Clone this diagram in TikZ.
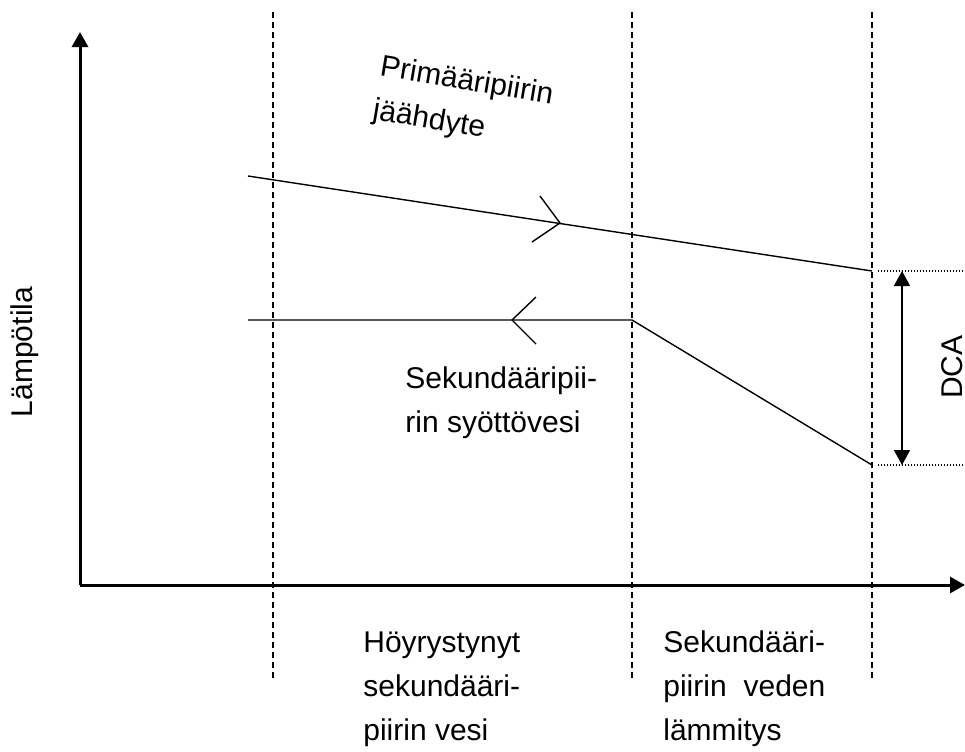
\documentclass[tikz,border=0pt]{standalone}
\usepackage{fontspec}
\setmainfont{Liberation Sans}
\usetikzlibrary{arrows.meta, positioning}

\tikzset{
  axisline/.style={line width=1.5pt, -{Triangle[length=7.5pt,width=8pt]}},
  zoneline/.style={line width=0.6pt, dash pattern=on 3pt off 2pt},
  flowline/.style={line width=0.7pt},
  levelline/.style={line width=0.6pt, dash pattern=on 0.6pt off 0.9pt},
  dcaarrow/.style={line width=0.7pt, {Triangle[length=7.5pt,width=8pt]}-{Triangle[length=7.5pt,width=8pt]}},
  txt/.style={inner sep=0pt, font=\fontsize{15}{22}\selectfont, align=left}
}

\begin{document}
\begin{tikzpicture}[x=0.5pt, y=-0.5pt]
    \useasboundingbox (0,0) rectangle (965,751);

    % --- AXES ---
    \coordinate (origin) at (80,585);
    \coordinate (ytip) at (80,32);
    \coordinate (xtip) at (965,585);
    \draw[axisline] (origin) -- (ytip);
    \draw[axisline] (origin) -- (xtip);
    \node (ylabel) [txt, rotate=90] at (25,352) {Lämpötila};

    % --- ZONE BORDERS ---
    \foreach \x/\name in {273/za, 632/zb, 872/zc} {
        \coordinate (\name top) at (\x,12);
        \coordinate (\name bot) at (\x,678);
        \draw[zoneline] (\name top) -- (\name bot);
    }

    % --- PRIMARY COOLANT ---
    \coordinate (pin) at (248,176);
    \coordinate (pout) at (872,271);
    \draw[flowline] (pin) -- (pout);
    \coordinate (ptip) at (560,223);
    \draw[flowline] (540,196) -- (ptip) -- (532,242);
    \node (primary) [txt, rotate=-9.5] at (463,104) {Primääripiirin\\jäähdyte};

    % --- SECONDARY FEED WATER ---
    \coordinate (sout) at (248,320);
    \coordinate (sknee) at (632,320);
    \coordinate (sin) at (872,465);
    \draw[flowline] (sin) -- (sknee) -- (sout);
    \coordinate (stip) at (512,320);
    \draw[flowline] (536,297) -- (stip) -- (536,344);
    \node (secondary) [txt, anchor=base west] at (405,432) {Sekundääripii-\\rin syöttövesi};

    % --- DCA ---
    \coordinate (dtop) at (902,271);
    \coordinate (dbot) at (902,465);
    \draw[levelline] (878,271) -- (965,271);
    \draw[levelline] (878,465) -- (965,465);
    \draw[dcaarrow] (dtop) -- (dbot);
    \node (dca) [txt, rotate=90] at (952,367) {DCA};

    % --- ZONE LABELS ---
    \node (boiling) [txt, anchor=base west] at (363,740) {Höyrystynyt\\sekundääri-\\piirin vesi};
    \node (heating) [txt, anchor=base west] at (663,740) {Sekundääri-\\\makebox[81pt][s]{piirin veden}\\lämmitys};
\end{tikzpicture}
\end{document}
